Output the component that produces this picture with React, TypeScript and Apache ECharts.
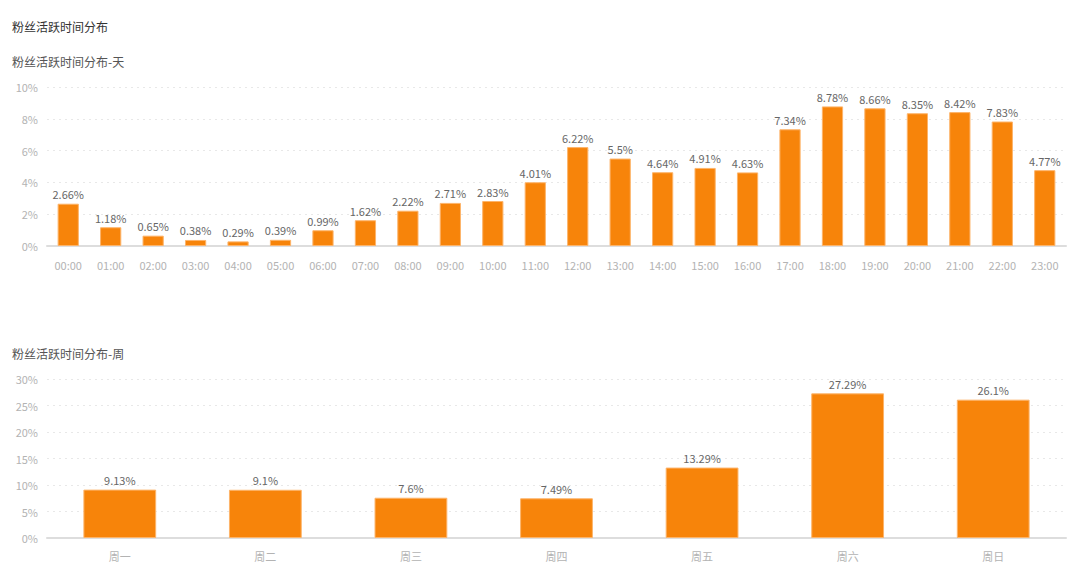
import React, { useEffect, useRef } from "react";
import * as echarts from "echarts";

const hourCategories = ["00:00","01:00","02:00","03:00","04:00","05:00","06:00","07:00","08:00","09:00","10:00","11:00","12:00","13:00","14:00","15:00","16:00","17:00","18:00","19:00","20:00","21:00","22:00","23:00"];
const hourValues = [2.66,1.18,0.65,0.38,0.29,0.39,0.99,1.62,2.22,2.71,2.83,4.01,6.22,5.5,4.64,4.91,4.63,7.34,8.78,8.66,8.35,8.42,7.83,4.77];
const weekCategories = ["周一","周二","周三","周四","周五","周六","周日"];
const weekValues = [9.13,9.1,7.6,7.49,13.29,27.29,26.1];

const FONT = '"Noto Sans CJK SC", "Microsoft YaHei", sans-serif';
const BAR = "#F7840A";

export default function App() {
  const ref = useRef<HTMLDivElement>(null);
  useEffect(() => {
    const chart = echarts.init(ref.current!, null, { renderer: "svg" });
    const axisLabel = { color: "#b3b3b3", fontSize: 11, fontFamily: FONT };
    const catAxis = (idx: number, data: string[], margin: number) => ({
      type: "category",
      gridIndex: idx,
      data,
      axisLine: { lineStyle: { color: "#dddddd", width: 2 } },
      axisTick: { show: false },
      axisLabel: { ...axisLabel, margin },
    });
    const valAxis = (idx: number, max: number, interval: number) => ({
      type: "value",
      gridIndex: idx,
      min: 0,
      max,
      interval,
      axisLabel: { ...axisLabel, formatter: "{value}%", margin: 9 },
      axisLine: { show: false },
      axisTick: { show: false },
      splitLine: { lineStyle: { color: "#e8e8e8", type: [2, 4] } },
    });
    const label = {
      show: true,
      position: "top",
      color: "#666",
      fontSize: 11,
      fontFamily: FONT,
      distance: 4,
      formatter: (p: any) => p.value + "%",
    };
    const titleStyle = (color: string) => ({ fontSize: 12, color, fontWeight: "normal", fontFamily: FONT });
    chart.setOption({
      animation: false,
      textStyle: { fontFamily: FONT },
      title: [
        { text: "粉丝活跃时间分布", left: 7, top: 15, textStyle: titleStyle("#333") },
        { text: "粉丝活跃时间分布-天", left: 7, top: 50, textStyle: titleStyle("#555") },
        { text: "粉丝活跃时间分布-周", left: 7, top: 342, textStyle: titleStyle("#555") },
      ],
      grid: [
        { left: 47, right: 14, top: 87, height: 159 },
        { left: 47, right: 14, top: 379, height: 159 },
      ],
      xAxis: [catAxis(0, hourCategories, 13), catAxis(1, weekCategories, 12)],
      yAxis: [valAxis(0, 10, 2), valAxis(1, 30, 5)],
      series: [
        {
          type: "bar",
          xAxisIndex: 0,
          yAxisIndex: 0,
          data: hourValues,
          barWidth: "50%",
          itemStyle: { color: BAR, borderColor: "#FDB46A", borderWidth: 1 },
          label,
        },
        {
          type: "bar",
          xAxisIndex: 1,
          yAxisIndex: 1,
          data: weekValues,
          barWidth: "50%",
          itemStyle: { color: BAR, borderColor: "#FDB46A", borderWidth: 1 },
          label,
        },
      ],
    });
    return () => chart.dispose();
  }, []);
  return (
    <div
      ref={ref}
      style={{ position: "fixed", left: 0, top: 0, width: 1080, height: 581, background: "#fff" }}
    />
  );
}
